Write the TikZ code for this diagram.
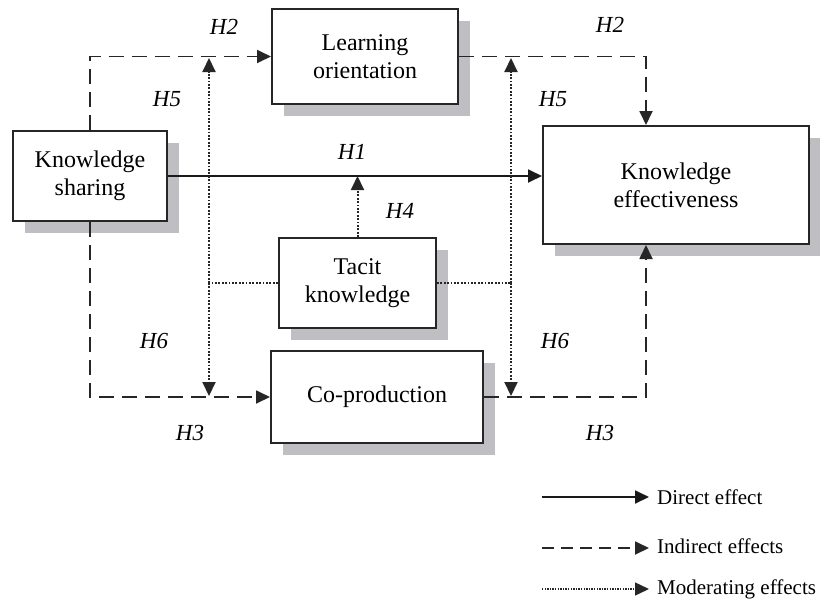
\documentclass[tikz,border=0pt]{standalone}
\usepackage{fontspec}
\setmainfont{Liberation Serif}
\usetikzlibrary{arrows.meta,shadows}
\definecolor{shadowgray}{RGB}{190,190,195}
\tikzset{
  box/.style={draw=black!85, line width=2pt, fill=white, align=center,
    font=\fontsize{24}{28}\selectfont, inner sep=0pt,
    drop shadow={shadow xshift=12pt, shadow yshift=-12pt, fill=shadowgray, opacity=1}},
  hlab/.style={font=\fontsize{23}{26}\selectfont\itshape, inner sep=0pt},
  legtext/.style={font=\fontsize{21}{24}\selectfont, inner sep=0pt, anchor=west},
  tip/.style={-{Triangle[length=14pt,width=13pt]}},
  direct/.style={line width=1.8pt, black!90},
  indirect/.style={line width=1.8pt, black!85, dash pattern=on 15pt off 8pt},
  moder/.style={line width=2pt, black!85, dash pattern=on 1.8pt off 1.6pt},
}
\begin{document}
\begin{tikzpicture}[x=1pt,y=-1pt]
\useasboundingbox (0,0) rectangle (820,603);
% boxes
\node[box, minimum width=154pt, minimum height=90pt] (KS) at (90,176) {Knowledge\\sharing};
\node[box, minimum width=186pt, minimum height=95pt] (LO) at (365,56.5) {Learning\\orientation};
\node[box, minimum width=266pt, minimum height=118pt] (KE) at (676,185) {Knowledge\\effectiveness};
\node[box, minimum width=157pt, minimum height=90pt] (TK) at (357.5,283) {Tacit\\knowledge};
\node[box, minimum width=212pt, minimum height=92pt] (CP) at (377,397) {Co-production};
% helper coordinates
\coordinate (tl) at (209,58);
\coordinate (bl) at (209,396);
\coordinate (tr) at (511,58);
\coordinate (br) at (511,396);
% direct effect
\draw[direct, tip] (KS.east) -- (KS.east -| KE.west);
% indirect effects
\draw[indirect, tip] (KS.north) |- (LO.west);
\draw[indirect, tip] (LO.east) -| ([xshift=-30pt]KE.north);
\draw[indirect, tip] (KS.south) |- (CP.west);
\draw[indirect, tip] (CP.east) -| ([xshift=-30pt]KE.south);
% moderating effects
\draw[moder] (TK.west) -- (TK.west -| tl) coordinate (ml);
\draw[moder, tip] (ml) -- (tl);
\draw[moder, tip] (ml) -- (bl);
\draw[moder] (TK.east) -- (TK.east -| tr) coordinate (mr);
\draw[moder, tip] (mr) -- (tr);
\draw[moder, tip] (mr) -- (br);
\draw[moder, tip] (TK.north) -- (TK.north |- KS.east);
% labels
\node[hlab] (h2a) at (224,27) {H2};
\node[hlab] (h5a) at (167,99) {H5};
\node[hlab] (h2b) at (610,25) {H2};
\node[hlab] (h5b) at (553,99) {H5};
\node[hlab] (h1) at (352,152) {H1};
\node[hlab] (h4) at (400,211) {H4};
\node[hlab] (h6a) at (154,341) {H6};
\node[hlab] (h6b) at (555,341) {H6};
\node[hlab] (h3a) at (190,433) {H3};
\node[hlab] (h3b) at (600,433) {H3};
% legend
\node[legtext] (l1) at (657,497) {Direct effect};
\node[legtext] (l2) at (657,546) {Indirect effects};
\node[legtext] (l3) at (657,589) {Moderating effects};
\coordinate (s1) at (542,497);
\coordinate (s2) at (542,548);
\coordinate (s3) at (542,589);
\draw[direct, tip] (s1) -- ([xshift=-8pt]l1.west |- s1);
\draw[indirect, dash pattern=on 12pt off 7pt, tip] (s2) -- ([xshift=-8pt]l2.west |- s2);
\draw[moder, line width=1.4pt, dash pattern=on 1.3pt off 1.3pt, tip] (s3) -- ([xshift=-8pt]l3.west |- s3);
\end{tikzpicture}
\end{document}
